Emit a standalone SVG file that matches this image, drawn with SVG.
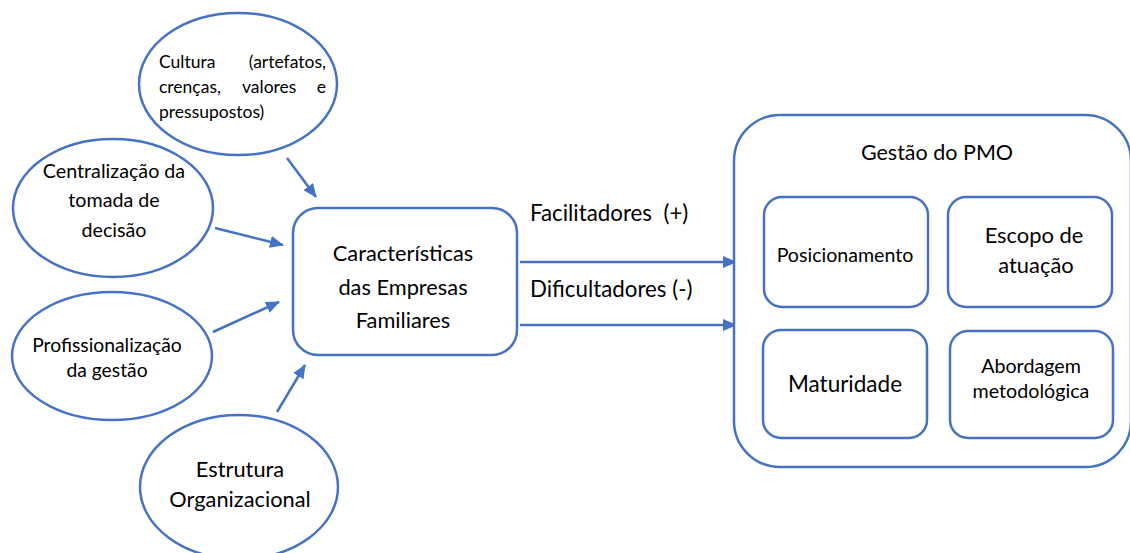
<svg xmlns="http://www.w3.org/2000/svg" width="1130" height="553" viewBox="0 0 1130 553">
<style>
.s{fill:#fff;stroke:#4472C4;stroke-width:2.5}
.t{font-family:Lato,"Liberation Sans",sans-serif;fill:#000;text-anchor:middle}
.c{stroke:#4472C4;stroke-width:2.5;fill:none}
</style>
<defs>
<marker id="ah" viewBox="0 0 14 12" refX="13" refY="6" markerWidth="14" markerHeight="12" markerUnits="userSpaceOnUse" orient="auto">
<path d="M0,0 L14,6 L0,12 z" fill="#4472C4"/>
</marker>
</defs>
<rect width="1130" height="553" fill="#fff"/>
<g id="connectors">
<line class="c" x1="287" y1="158" x2="316" y2="197" marker-end="url(#ah)"/>
<line class="c" x1="215" y1="228" x2="283" y2="245" marker-end="url(#ah)"/>
<line class="c" x1="213" y1="332" x2="279" y2="302" marker-end="url(#ah)"/>
<line class="c" x1="277" y1="412" x2="305" y2="365" marker-end="url(#ah)"/>
<line class="c" x1="520" y1="262" x2="736" y2="262" marker-end="url(#ah)"/>
<line class="c" x1="520" y1="325" x2="736" y2="325" marker-end="url(#ah)"/>
</g>
<g id="cultura">
<ellipse class="s" cx="238" cy="84" rx="99" ry="71"/>
<g class="t" style="font-size:17.5px">
<text x="159" y="68" style="text-anchor:start">Cultura</text>
<text x="326" y="68" style="text-anchor:end">(artefatos,</text>
<text x="159" y="93" style="text-anchor:start">crenças,</text>
<text x="242" y="93" style="text-anchor:start">valores</text>
<text x="326" y="93" style="text-anchor:end">e</text>
<text x="159" y="118" style="text-anchor:start">pressupostos)</text>
</g>
</g>
<g id="centralizacao">
<ellipse class="s" cx="113" cy="208" rx="100" ry="69"/>
<text class="t" style="font-size:19.7px" x="114" y="178">Centralização da</text>
<text class="t" style="font-size:19.7px" x="114" y="207">tomada de</text>
<text class="t" style="font-size:19.7px" x="114" y="237">decisão</text>
</g>
<g id="profissionalizacao">
<ellipse class="s" cx="112" cy="356" rx="100" ry="64"/>
<text class="t" style="font-size:19.3px" x="107" y="352">Profissionalização</text>
<text class="t" style="font-size:19.3px" x="107" y="377">da gestão</text>
</g>
<g id="estrutura">
<ellipse class="s" cx="239" cy="487" rx="99" ry="72"/>
<text class="t" style="font-size:21.8px" x="240" y="477">Estrutura</text>
<text class="t" style="font-size:21.8px" x="240" y="507">Organizacional</text>
</g>
<g id="caracteristicas">
<rect class="s" x="293" y="208" width="224" height="147" rx="25"/>
<text class="t" style="font-size:21.8px" x="403" y="261">Características</text>
<text class="t" style="font-size:21.8px" x="403" y="295">das Empresas</text>
<text class="t" style="font-size:21.8px" x="403" y="328">Familiares</text>
</g>
<g id="labels">
<text class="t" style="font-size:22.3px;text-anchor:start;white-space:pre" xml:space="preserve" x="530" y="221">Facilitadores  (+)</text>
<text class="t" style="font-size:22.3px;text-anchor:start" x="530" y="297">Dificultadores (-)</text>
</g>
<g id="gestao">
<rect class="s" x="734" y="115" width="397" height="352" rx="46"/>
<text class="t" style="font-size:21.5px" x="937" y="160">Gestão do PMO</text>
</g>
<g id="posicionamento">
<rect class="s" x="764" y="197" width="164" height="110" rx="18"/>
<text class="t" style="font-size:19.6px" x="845" y="262">Posicionamento</text>
</g>
<g id="escopo">
<rect class="s" x="948" y="197" width="164" height="110" rx="18"/>
<text class="t" style="font-size:21.9px" x="1034" y="243">Escopo de</text>
<text class="t" style="font-size:21.9px" x="1036" y="273">atuação</text>
</g>
<g id="maturidade">
<rect class="s" x="763" y="330" width="164" height="108" rx="18"/>
<text class="t" style="font-size:22.5px" x="845" y="392">Maturidade</text>
</g>
<g id="abordagem">
<rect class="s" x="950" y="331" width="163" height="107" rx="18"/>
<text class="t" style="font-size:19.7px" x="1031" y="373">Abordagem</text>
<text class="t" style="font-size:19.7px" x="1031" y="398">metodológica</text>
</g>
</svg>
